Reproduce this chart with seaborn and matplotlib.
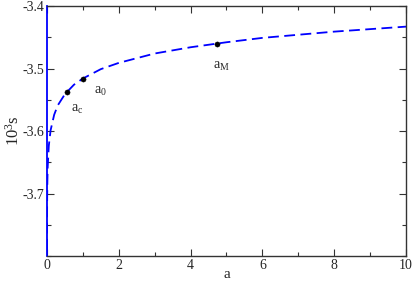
import numpy as np
import pandas as pd
import seaborn as sns
from matplotlib import pyplot as plt
from matplotlib.ticker import MultipleLocator

# curve values
a_vals = [0.0005, 0.001, 0.002, 0.005, 0.01, 0.02, 0.05, 0.1, 0.2, 0.3, 0.5, 0.75,
          1, 1.5, 2, 3, 4, 5, 6, 7, 8, 9, 10]
s_vals = [-3.790, -3.765, -3.740, -3.707, -3.682, -3.657, -3.624, -3.599, -3.574, -3.559,
          -3.541, -3.526, -3.516, -3.501, -3.491, -3.476, -3.466, -3.458, -3.451, -3.446,
          -3.441, -3.437, -3.433]

# marked points
pt_names = ['a$_\\mathrm{c}$', 'a$_\\mathrm{0}$', 'a$_\\mathrm{M}$']
pt_a = [0.56, 1.0, 4.74]
pt_s = [-3.537, -3.517, -3.460]

sns.set_style('ticks')
plt.rcParams['font.family'] = ['Liberation Serif', 'DejaVu Serif']
plt.rcParams['mathtext.fontset'] = 'custom'
plt.rcParams['mathtext.rm'] = 'Liberation Serif'
plt.rcParams['mathtext.it'] = 'Liberation Serif'
plt.rcParams['axes.unicode_minus'] = False

curve = pd.DataFrame({'a': a_vals, 's': s_vals})
pts = pd.DataFrame({'a': pt_a, 's': pt_s})

fig = plt.figure(figsize=(4.14, 2.82), dpi=100)
ax = fig.add_axes([0.1135, 0.0922, 0.8672, 0.8865])

sns.lineplot(data=curve, x='a', y='s', ax=ax, color='blue', lw=1.3, sort=False)
ax.lines[-1].set_dashes((6, 3))
sns.scatterplot(data=pts, x='a', y='s', ax=ax, color='black', s=14, edgecolor='black', zorder=5)

offsets = [(3, -8), (8, -4), (-3, -12)]
for name, x, y, off in zip(pt_names, pt_a, pt_s, offsets):
    ax.annotate(name, (x, y), xytext=off, textcoords='offset points',
                fontsize=10, ha='left', va='top')

ax.set_xlim(0, 10)
ax.set_ylim(-3.8, -3.4)
ax.set_xticks([0, 2, 4, 6, 8, 10])
ax.set_yticks([-3.7, -3.6, -3.5, -3.4])
ax.xaxis.set_minor_locator(MultipleLocator(1))
ax.yaxis.set_minor_locator(MultipleLocator(0.05))
ax.tick_params(which='both', direction='in', top=True, right=True, labelsize=10,
               color='#333333', width=0.8, pad=2)
ax.tick_params(which='major', length=5)
ax.tick_params(which='minor', length=3)
for sp in ax.spines.values():
    sp.set_linewidth(1.0)
    sp.set_color('#333333')
ax.spines['left'].set_color('blue')
ax.spines['left'].set_linewidth(1.3)

ax.set_xlabel('a', fontsize=11, labelpad=-3)
ax.set_ylabel('10$^3$s', fontsize=12, labelpad=0)

plt.savefig('out.png', dpi=100)
plt.close()
